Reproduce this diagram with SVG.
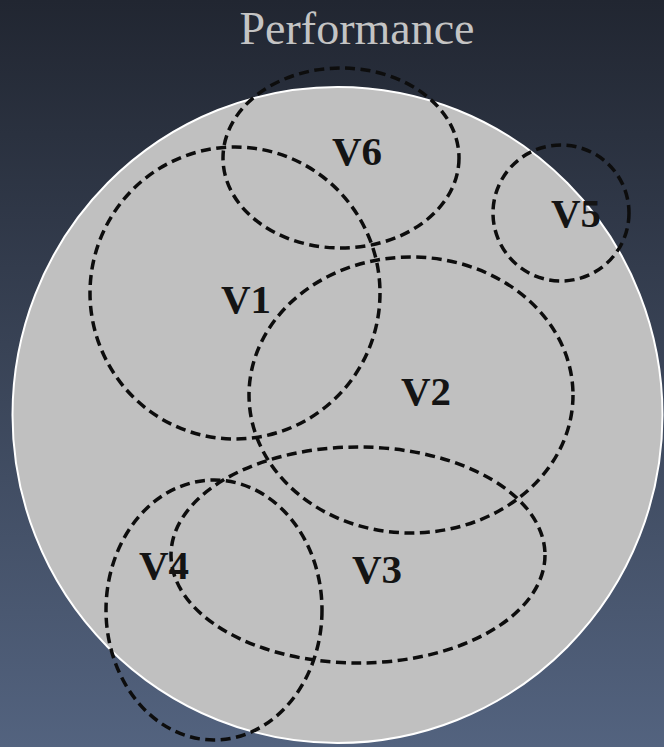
<svg xmlns="http://www.w3.org/2000/svg" width="664" height="747" viewBox="0 0 664 747">
  <defs>
    <linearGradient id="bg" x1="0" y1="0" x2="0" y2="1">
      <stop offset="0" stop-color="#212631"/>
      <stop offset="1" stop-color="#53637f"/>
    </linearGradient>
  </defs>
  <style>
    .set { fill: none; stroke: #0d0d0d; stroke-width: 3.5; stroke-dasharray: 10 5.5; }
    .lbl { font-family: "Liberation Serif", "Times New Roman", serif; font-size: 41px; font-weight: bold; fill: #141414; text-anchor: middle; }
    .title { font-family: "Liberation Serif", "Times New Roman", serif; font-size: 46px; fill: #c4c4c4; text-anchor: middle; }
  </style>
  <rect x="0" y="0" width="664" height="747" fill="url(#bg)"/>
  <g id="universe">
    <ellipse cx="337.5" cy="415" rx="325" ry="328" fill="#c0c0c0" stroke="#ffffff" stroke-width="2"/>
    <text class="title" x="357" y="44">Performance</text>
  </g>
  <g id="V6">
    <ellipse class="set" cx="341" cy="158" rx="118" ry="90"/>
    <text class="lbl" x="357" y="165">V6</text>
  </g>
  <g id="V1">
    <ellipse class="set" cx="235" cy="293" rx="145" ry="146"/>
    <text class="lbl" x="246" y="313">V1</text>
  </g>
  <g id="V5">
    <ellipse class="set" cx="561" cy="213" rx="68" ry="68"/>
    <text class="lbl" x="576" y="227">V5</text>
  </g>
  <g id="V2">
    <ellipse class="set" cx="411" cy="395" rx="162" ry="138"/>
    <text class="lbl" x="426" y="405">V2</text>
  </g>
  <g id="V3">
    <ellipse class="set" cx="358" cy="555" rx="187" ry="108"/>
    <text class="lbl" x="377" y="583">V3</text>
  </g>
  <g id="V4">
    <ellipse class="set" cx="214" cy="610" rx="108" ry="130"/>
    <text class="lbl" x="164" y="579">V4</text>
  </g>
  <g id="connectors"></g>
</svg>
